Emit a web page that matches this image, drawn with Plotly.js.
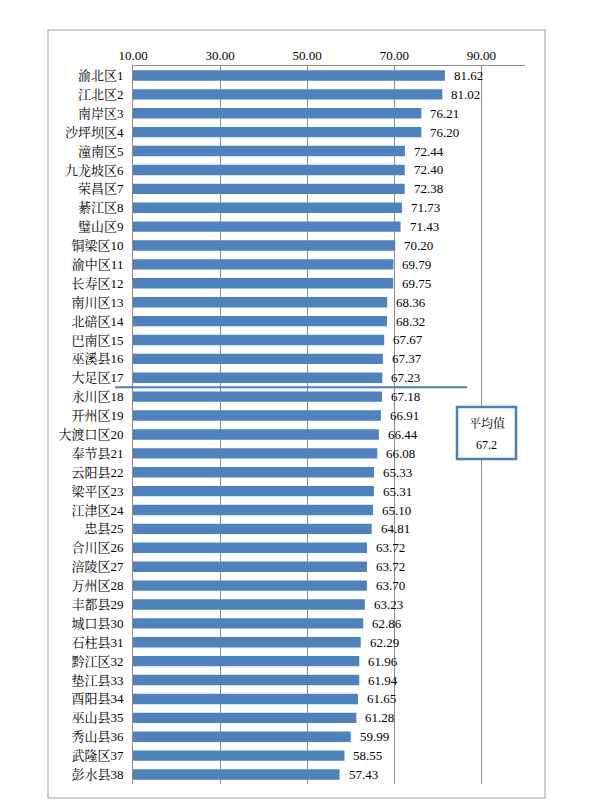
<!DOCTYPE html>
<html>
<head>
<meta charset="utf-8">
<script src="https://cdn.plot.ly/plotly-3.0.1.min.js"></script>
<style>html,body{margin:0;padding:0;background:#fff;}#chart{width:607px;height:808px;}</style>
</head>
<body>
<div id="chart"></div>
<script>
const districts = ["渝北区","江北区","南岸区","沙坪坝区","潼南区","九龙坡区","荣昌区","綦江区","璧山区","铜梁区",
  "渝中区","长寿区","南川区","北碚区","巴南区","巫溪县","大足区","永川区","开州区","大渡口区",
  "奉节县","云阳县","梁平区","江津区","忠县","合川区","涪陵区","万州区","丰都县","城口县",
  "石柱县","黔江区","垫江县","酉阳县","巫山县","秀山县","武隆区","彭水县"];
const scores = [81.62,81.02,76.21,76.20,72.44,72.40,72.38,71.73,71.43,70.20,
  69.79,69.75,68.36,68.32,67.67,67.37,67.23,67.18,66.91,66.44,
  66.08,65.33,65.31,65.10,64.81,63.72,63.72,63.70,63.23,62.86,
  62.29,61.96,61.94,61.65,61.28,59.99,58.55,57.43];
const tickValues = [10,30,50,70,90];
const averageLabel = "平均值";
const averageValue = 67.2;

const categories = districts.map((d,i)=> d + (i+1));
const fontFam = "Liberation Serif, Noto Serif CJK SC, Noto Sans CJK SC, serif";

// layout geometry (pixels)
const L = 133, R = 82, T = 66, B = 24;
const W = 607, H = 808;
const pw = W - L - R, ph = H - T - B;
const px = v => (v - L) / pw;
const py = v => (H - B - v) / ph;

const trace = {
  type: 'bar',
  orientation: 'h',
  x: scores,
  y: categories,
  marker: {color: '#4f81bd', line: {width: 0}},
  hoverinfo: 'skip'
};

const annotations = scores.map((v,i)=>({
  x: v, y: categories[i], xref: 'x', yref: 'y',
  text: v.toFixed(2), showarrow: false, xanchor: 'left', xshift: 7,
  font: {family: fontFam, size: 13, color: '#000'}
}));
annotations.push({
  xref: 'paper', yref: 'paper', x: px(486.5), y: py(423),
  text: averageLabel, showarrow: false, xanchor: 'center', yanchor: 'middle',
  font: {family: fontFam, size: 12, color: '#000'}
});
annotations.push({
  xref: 'paper', yref: 'paper', x: px(486.5), y: py(445),
  text: String(averageValue), showarrow: false, xanchor: 'center', yanchor: 'middle',
  font: {family: fontFam, size: 12, color: '#000'}
});

const shapes = [
  {type: 'rect', xref: 'paper', yref: 'paper', x0: px(48), x1: px(545), y0: py(30), y1: py(798),
   line: {color: '#bfbfbf', width: 1.5}, fillcolor: 'rgba(0,0,0,0)', layer: 'below'},
  {type: 'line', xref: 'paper', yref: 'y', x0: px(115), x1: px(467), y0: 16.5, y1: 16.5,
   line: {color: '#4a7ebb', width: 2}},
  {type: 'rect', xref: 'paper', yref: 'paper', x0: px(457), x1: px(516), y0: py(407), y1: py(459),
   line: {color: '#4a7ebb', width: 2.5}, fillcolor: '#ffffff'}
];

const layout = {
  width: W, height: H,
  margin: {l: L, r: R, t: T, b: B, pad: 0},
  paper_bgcolor: '#fff', plot_bgcolor: '#fff',
  showlegend: false,
  bargap: 0.45,
  font: {family: fontFam},
  xaxis: {
    side: 'top', range: [10, 100], tickvals: tickValues, tickformat: '.2f',
    showgrid: true, gridcolor: '#8c8c8c', gridwidth: 1,
    showline: true, linecolor: '#8c8c8c', linewidth: 1,
    ticks: '', zeroline: false, fixedrange: true,
    tickfont: {family: fontFam, size: 13, color: '#000'}
  },
  yaxis: {
    type: 'category', autorange: 'reversed',
    showline: true, linecolor: '#8c8c8c', linewidth: 1,
    showgrid: false, ticks: '', zeroline: false,
    ticklabelstandoff: 6,
    tickfont: {family: fontFam, size: 13, color: '#000'}
  },
  shapes: shapes,
  annotations: annotations
};

Plotly.newPlot('chart', [trace], layout, {displayModeBar: false, staticPlot: true});
</script>
</body>
</html>
